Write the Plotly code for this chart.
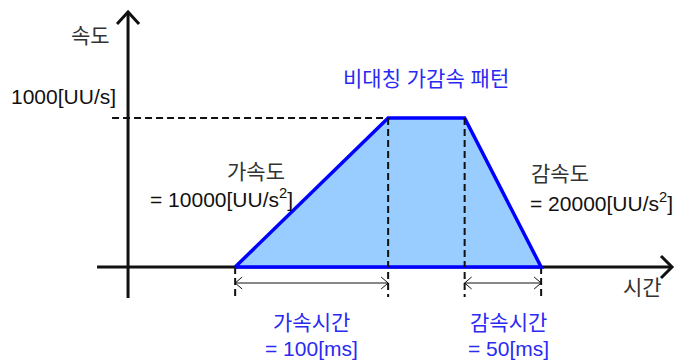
import plotly.graph_objects as go

# 비대칭 가감속 프로파일 (시간 [ms], 속도 [UU/s])
t_start = 70
accel_time = 100        # 가속시간
const_time = 50
decel_time = 50         # 감속시간
v_max = 1000

profile_t = [t_start,
             t_start + accel_time,
             t_start + accel_time + const_time,
             t_start + accel_time + const_time + decel_time]
profile_v = [0, v_max, v_max, 0]

####################################################
W, H = 675, 362
x_range = [-83.7, 357.5]
y_range = [-637.6, 1792]
kx = W / (x_range[1] - x_range[0])      # px per ms
ky = H / (y_range[1] - y_range[0])      # px per UU/s


def dx(p):
    return p / kx


def dy(p):
    return p / ky


BLACK = "#111111"
BLUE = "#0000FF"
TXT_BLUE = "#2a2af2"

fig = go.Figure()


def line(xs, ys, color=BLACK, width=3, dash="solid"):
    fig.add_trace(go.Scatter(x=xs, y=ys, mode="lines", hoverinfo="skip",
                             line=dict(color=color, width=width, dash=dash),
                             showlegend=False))


# axes
x_left, x_right = -dx(31), x_range[1] - dx(3)
y_bottom, y_top = -dy(31), y_range[1] - dy(12)
line([x_left, x_right], [0, 0])
line([0, 0], [y_bottom, y_top])
# arrow heads (open chevrons)
line([-dx(11), 0, dx(11)], [y_top - dy(12), y_top, y_top - dy(12)])
line([x_right - dx(11), x_right, x_right - dx(11)], [dy(11), 0, -dy(11)])

# dashed guide lines
guide = "7px,4px"
y_low = -dy(30)
line([-dx(16), profile_t[1]], [v_max, v_max], width=2, dash=guide)
for t, v in zip(profile_t, profile_v):
    line([t, t], [v, y_low], width=2, dash=guide)

# trapezoid
fig.add_trace(go.Scatter(x=profile_t + [profile_t[0]], y=profile_v + [0],
                         mode="lines", fill="toself", fillcolor="#99CCFF",
                         line=dict(color=BLUE, width=3.5), hoverinfo="skip",
                         showlegend=False))
for t in profile_t[1:3]:
    line([t, t], [v_max, 0], width=2, dash=guide)

# double arrows for accel / decel time
y_arr = -dy(16)
for a, b in [(profile_t[0], profile_t[1]), (profile_t[2], profile_t[3])]:
    line([a, b], [y_arr, y_arr], width=1)
    line([a + dx(7), a, a + dx(7)], [y_arr + dy(6), y_arr, y_arr - dy(6)], width=1)
    line([b - dx(7), b, b - dx(7)], [y_arr + dy(6), y_arr, y_arr - dy(6)], width=1)

FONT = "Liberation Sans, Arial, Noto Sans CJK KR"


def text(s, x, y, xs=0, ys=0, color=BLACK, anchor="center"):
    fig.add_annotation(text=s, x=x, y=y, xref="x", yref="y", xshift=xs, yshift=ys,
                       showarrow=False, xanchor=anchor, yanchor="middle",
                       font=dict(family=FONT, size=21, color=color))


acc_mid = (profile_t[0] + profile_t[1]) / 2
dec_mid = (profile_t[2] + profile_t[3]) / 2
top_mid = (profile_t[1] + profile_t[2]) / 2

text("속도", 0, y_top, xs=-38, ys=-23, color="#333333")
text("1000[UU/s]", 0, v_max, xs=-10, ys=22, anchor="right")
text("비대칭 가감속 패턴", top_mid, v_max, ys=40, color=TXT_BLUE)
text("가속도", profile_t[0], 0, xs=52, ys=96, anchor="right", color="#333333")
text("= 10000[UU/s<sup>2</sup>]", profile_t[0], 0, xs=60, ys=69, anchor="right")
text("감속도", profile_t[3], 0, xs=-12, ys=94, anchor="left", color="#333333")
text("= 20000[UU/s<sup>2</sup>]", profile_t[3], 0, xs=-13, ys=65, anchor="left")
text("시간", x_right, 0, xs=-30, ys=-20, color="#333333")
text("가속시간", acc_mid, 0, ys=-55, color=TXT_BLUE)
text("= 100[ms]", acc_mid, 0, ys=-81, color=TXT_BLUE)
text("감속시간", dec_mid, 0, xs=6, ys=-55, color=TXT_BLUE)
text("= 50[ms]", dec_mid, 0, xs=6, ys=-81, color=TXT_BLUE)

fig.update_layout(width=W, height=H, margin=dict(l=0, r=0, t=0, b=0, pad=0),
                  plot_bgcolor="white", paper_bgcolor="white",
                  xaxis=dict(range=x_range, visible=False, fixedrange=True),
                  yaxis=dict(range=y_range, visible=False, fixedrange=True))

# drop the page's default body margin so the figure fills the window
fig.write_html("out.html", config={"displayModeBar": False},
               post_script="document.body.style.margin='0';")
